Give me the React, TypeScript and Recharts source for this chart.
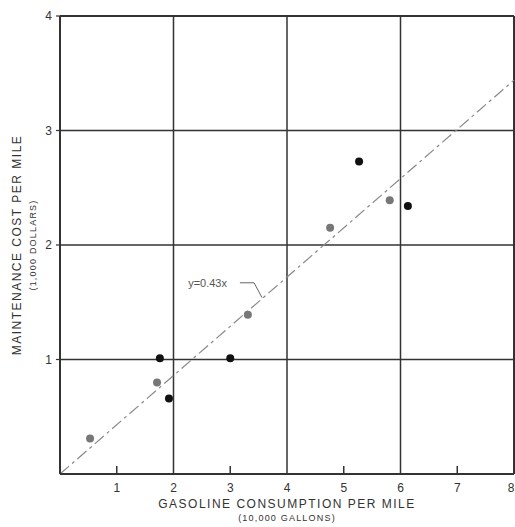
import { ScatterChart, Scatter, XAxis, YAxis, ReferenceLine, ReferenceDot } from 'recharts'

// gasoline consumption (10,000 gal) vs maintenance cost (1,000 $)
const darkX = [1.76, 1.92, 3.0, 5.27, 6.13]
const darkY = [1.01, 0.66, 1.01, 2.73, 2.34]
const grayX = [0.53, 1.71, 3.31, 4.76, 5.81]
const grayY = [0.31, 0.8, 1.39, 2.15, 2.39]
const slope = 0.43
const xTicks = [1, 2, 3, 4, 5, 6, 7, 8]
const yTicks = [1, 2, 3, 4]
const gridX = [2, 4, 6, 8]
const gridY = [1, 2, 3, 4]

const darkData = darkX.map((x, i) => ({ x, y: darkY[i] }))
const grayData = grayX.map((x, i) => ({ x, y: grayY[i] }))

const ink = '#333'
const font = '"Liberation Sans", Arial, sans-serif'

const dot = (fill: string) => (props: any) => <circle cx={props.cx} cy={props.cy} r={4} fill={fill} />

const XTick = (props: any) => {
  const { x, y, payload } = props
  const odd = payload.value % 2 === 1
  return (
    <g>
      {odd && <line x1={x} x2={x} y1={y - 8} y2={y} stroke={ink} strokeWidth={1.5} />}
      <text x={x} y={y + 18} textAnchor="middle" fontSize={12} fill={ink} fontFamily={font}>
        {payload.value}
      </text>
    </g>
  )
}

const YTick = (props: any) => {
  const { x, y, payload } = props
  return (
    <g>
      <line x1={x - 4} x2={x} y1={y} y2={y} stroke={ink} strokeWidth={1.2} />
      <text x={x - 8} y={y + 4} textAnchor="end" fontSize={12} fill={ink} fontFamily={font}>
        {payload.value}
      </text>
    </g>
  )
}

export default function App() {
  return (
    <div style={{ position: 'absolute', left: 0, top: 0, width: 515, height: 527, background: '#fff', fontFamily: font }}>
      <ScatterChart width={515} height={527} margin={{ top: 16, right: 1, left: 0, bottom: 0 }}>
        <XAxis type="number" dataKey="x" domain={[0, 8]} ticks={xTicks} tick={<XTick />} tickLine={false}
          tickSize={0} tickMargin={0} axisLine={{ stroke: ink, strokeWidth: 2 }} height={53} allowDataOverflow />
        <YAxis type="number" dataKey="y" domain={[0, 4]} ticks={yTicks} tick={<YTick />} tickLine={false}
          tickSize={0} tickMargin={0} axisLine={{ stroke: ink, strokeWidth: 2 }} width={60} allowDataOverflow />
        {gridX.map(v => (
          <ReferenceLine key={'gx' + v} x={v} stroke={ink} strokeWidth={v === 8 ? 2 : 1.5} />
        ))}
        {gridY.map(v => (
          <ReferenceLine key={'gy' + v} y={v} stroke={ink} strokeWidth={v === 4 ? 2 : 1.5} />
        ))}
        <ReferenceLine segment={[{ x: 0, y: 0 }, { x: 8, y: slope * 8 }]} stroke="#888" strokeWidth={1.2}
          strokeDasharray="12 4 3 4" />
        <ReferenceLine segment={[{ x: 3.17, y: 1.67 }, { x: 3.42, y: 1.67 }]} stroke="#666" strokeWidth={1} />
        <ReferenceLine segment={[{ x: 3.42, y: 1.67 }, { x: 3.56, y: 1.54 }]} stroke="#666" strokeWidth={1} />
        <ReferenceDot x={2.6} y={1.665} r={0} stroke="none"
          label={{ value: 'y=0.43x', position: 'center', fontSize: 11, fill: '#555', fontFamily: font }} />
        <Scatter data={grayData} fill="#777" shape={dot('#777')} isAnimationActive={false} />
        <Scatter data={darkData} fill="#111" shape={dot('#111')} isAnimationActive={false} />
      </ScatterChart>
      <div style={{ position: 'absolute', left: 60, width: 454, top: 497, textAlign: 'center', fontSize: 12, letterSpacing: 1.5, color: ink }}>
        GASOLINE CONSUMPTION PER MILE
      </div>
      <div style={{ position: 'absolute', left: 60, width: 454, top: 513, textAlign: 'center', fontSize: 9, letterSpacing: 1.2, color: ink }}>
        (10,000 GALLONS)
      </div>
      <div style={{ position: 'absolute', left: 17, top: 245, width: 300, marginLeft: -150, textAlign: 'center', fontSize: 12, letterSpacing: 1.5, color: ink, transform: 'translateY(-50%) rotate(-90deg)', lineHeight: '14px' }}>
        MAINTENANCE COST PER MILE
      </div>
      <div style={{ position: 'absolute', left: 33, top: 245, width: 200, marginLeft: -100, textAlign: 'center', fontSize: 9, letterSpacing: 1.2, color: ink, transform: 'translateY(-50%) rotate(-90deg)', lineHeight: '11px' }}>
        (1,000 DOLLARS)
      </div>
    </div>
  )
}
